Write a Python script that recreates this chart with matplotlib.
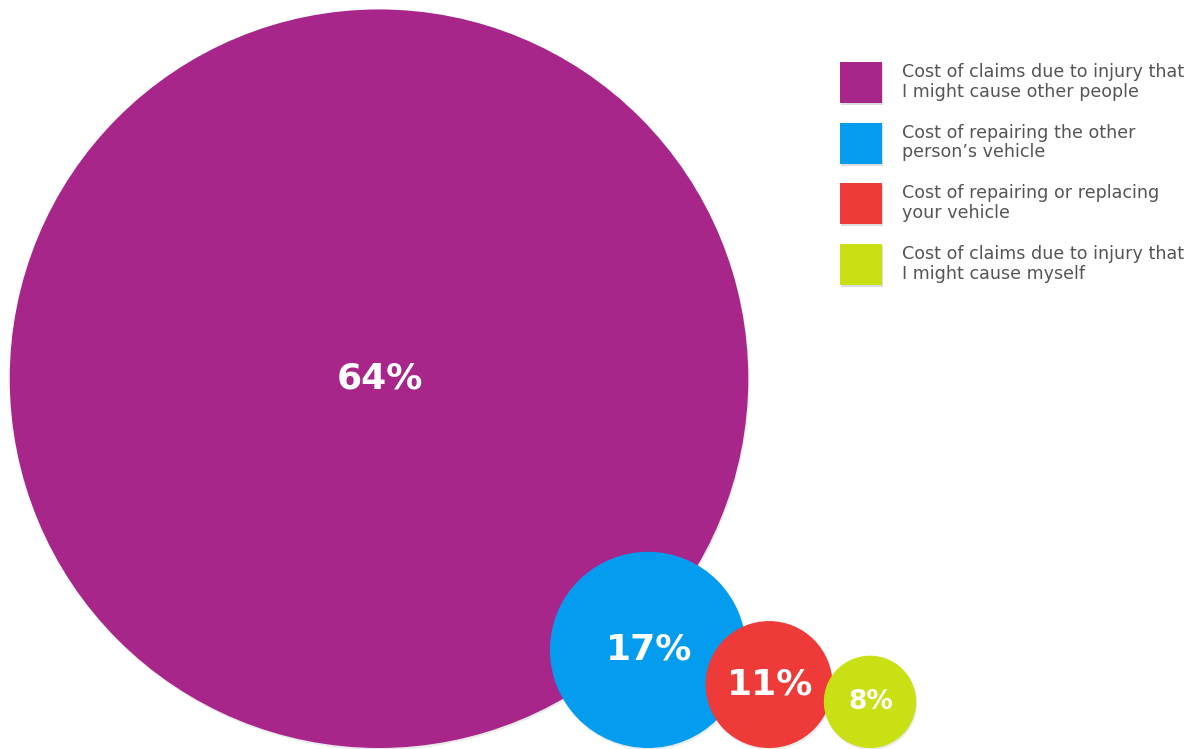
import matplotlib.pyplot as plt
from matplotlib.patches import Circle, Rectangle

labels = ["Cost of claims due to injury that\nI might cause other people",
          "Cost of repairing the other\nperson\u2019s vehicle",
          "Cost of repairing or replacing\nyour vehicle",
          "Cost of claims due to injury that\nI might cause myself"]
values = [64, 17, 11, 8]
colors = ["#A8268A", "#039CEF", "#EE3A38", "#C9E014"]

# layout (pixel space)
scale = 5.77          # radius per percent point
base_y = 748          # circles sit on this line
centers_x = [379, 648, 769, 870]
label_sizes = [26, 26, 26, 19]

fig = plt.figure(figsize=(12.01, 7.49), dpi=100)
ax = fig.add_axes([0, 0, 1, 1])
ax.set_xlim(0, 1201)
ax.set_ylim(749, 0)
ax.set_aspect("equal")
ax.axis("off")

for i in range(len(values)):
    r = values[i] * scale
    cx = centers_x[i]
    cy = base_y - r
    ax.add_patch(Circle((cx + 1, cy + 2), r, color="#00000014", lw=0, zorder=1 + i))
    ax.add_patch(Circle((cx, cy), r, color=colors[i], lw=0, zorder=1.5 + i))
    ax.text(cx + 1, cy, f"{values[i]}%", color="white", fontsize=label_sizes[i],
            fontweight="bold", ha="center", va="center", zorder=10)

# legend
for i in range(len(labels)):
    top = 62 + i * 60.7
    ax.add_patch(Rectangle((841, top + 2), 42, 41, color="#00000022", lw=0, zorder=2))
    ax.add_patch(Rectangle((840, top), 42, 41, color=colors[i], lw=0, zorder=3))
    ax.text(902, top + 1, labels[i], color="#555555", fontsize=12.6, ha="left", va="top",
            linespacing=1.12, zorder=3)

plt.savefig("out.png", dpi=100)
